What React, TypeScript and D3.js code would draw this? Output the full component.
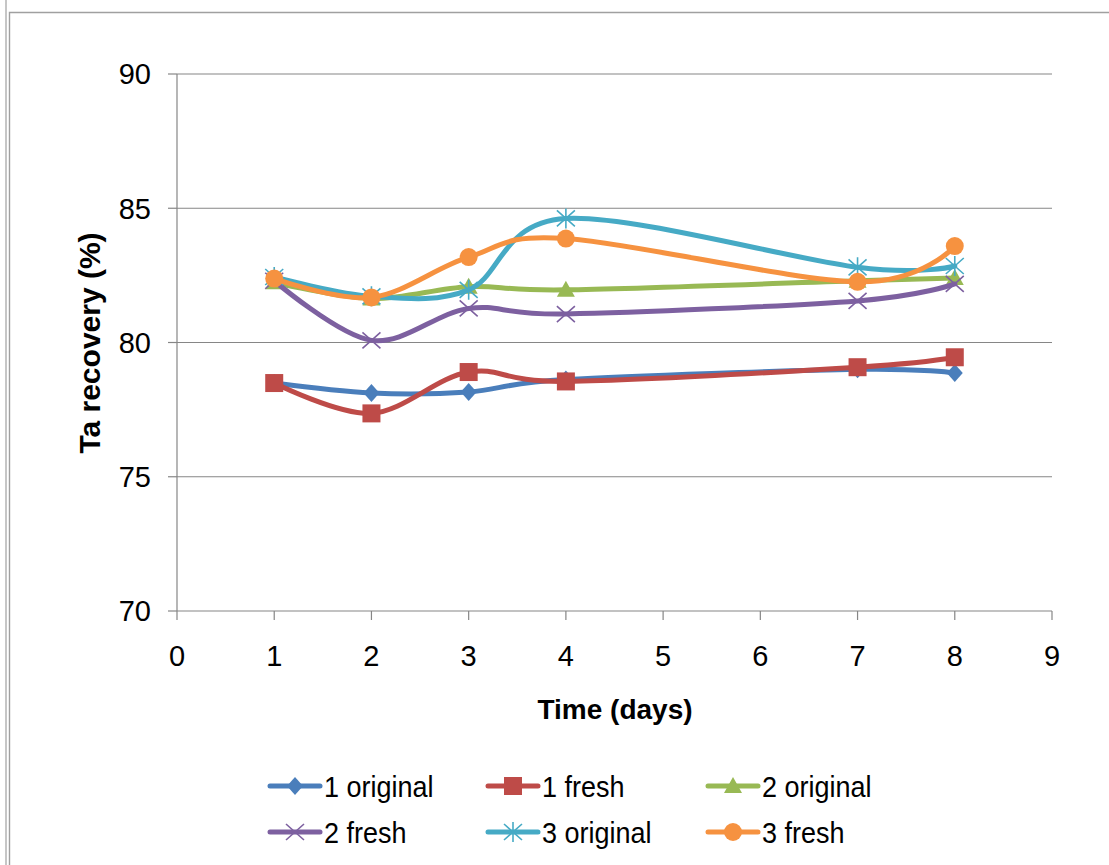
import React from "react";
import * as d3 from "d3";

const days = [1, 2, 3, 4, 7, 8];
const orig1 = [78.49, 78.12, 78.16, 78.62, 79.0, 78.86];
const fresh1 = [78.49, 77.36, 78.9, 78.55, 79.08, 79.45];
const orig2 = [82.24, 81.64, 82.08, 81.96, 82.3, 82.4];
const fresh2 = [82.3, 80.08, 81.27, 81.06, 81.55, 82.18];
const orig3 = [82.44, 81.72, 81.96, 84.62, 82.8, 82.85];
const fresh3 = [82.38, 81.68, 83.18, 83.87, 82.26, 83.59];

const seriesNames = ["1 original", "1 fresh", "2 original", "2 fresh", "3 original", "3 fresh"];
const seriesValues = [orig1, fresh1, orig2, fresh2, orig3, fresh3];
const seriesColors = ["#4A7EBB", "#BE4B48", "#98B954", "#7D60A0", "#46AAC5", "#F69240"];
const seriesMarkers = ["diamond", "square", "triangle", "x", "star", "circle"];

const xTicks = [0, 1, 2, 3, 4, 5, 6, 7, 8, 9];
const yTicks = [70, 75, 80, 85, 90];

const FONT = "'Liberation Sans', Arial, sans-serif";

function Marker({ type, x, y, color }: { type: string; x: number; y: number; color: string }) {
  switch (type) {
    case "diamond":
      return <path d={`M${x},${y - 9}L${x + 8},${y}L${x},${y + 9}L${x - 8},${y}Z`} fill={color} />;
    case "square":
      return <rect x={x - 9} y={y - 9} width={18} height={18} fill={color} />;
    case "triangle":
      return <path d={`M${x},${y - 9}L${x + 9},${y + 7}L${x - 9},${y + 7}Z`} fill={color} />;
    case "x":
      return (
        <path
          d={`M${x - 9},${y - 8}L${x + 9},${y + 8}M${x - 9},${y + 8}L${x + 9},${y - 8}`}
          stroke={color}
          strokeWidth={1.6}
          fill="none"
        />
      );
    case "star":
      return (
        <path
          d={`M${x - 9},${y - 8}L${x + 9},${y + 8}M${x - 9},${y + 8}L${x + 9},${y - 8}M${x},${y - 10}L${x},${y + 10}`}
          stroke={color}
          strokeWidth={1.6}
          fill="none"
        />
      );
    case "circle":
      return <circle cx={x} cy={y} r={9} fill={color} />;
    default:
      return null;
  }
}

export default function App() {
  const W = 1109;
  const H = 865;
  const x = d3.scaleLinear().domain([0, 9]).range([177, 1052]);
  const y = d3.scaleLinear().domain([70, 90]).range([611, 74]);
  const line = d3
    .line<[number, number]>()
    .x((d) => x(d[0]))
    .y((d) => y(d[1]))
    .curve(d3.curveCardinal.tension(0));

  const legendCols = [270, 488, 708];
  const legendRows = [786, 832];

  return (
    <svg
      width={W}
      height={H}
      style={{ position: "absolute", left: 0, top: 0, background: "#fff" }}
      fontFamily={FONT}
    >
      <rect x={0} y={0} width={W} height={H} fill="#fff" />
      {/* frame */}
      <line x1={6} y1={0} x2={6} y2={H} stroke="#A0A0A0" strokeWidth={1.2} />
      <path d={`M9.5,${H}L9.5,12.5L${W},12.5`} stroke="#A0A0A0" strokeWidth={1.4} fill="none" />

      {/* gridlines */}
      {yTicks.slice(1).map((t) => (
        <line key={t} x1={177} x2={1052} y1={y(t)} y2={y(t)} stroke="#868686" strokeWidth={1.2} />
      ))}
      {/* axes */}
      <line x1={177} x2={177} y1={74} y2={611} stroke="#868686" strokeWidth={1.2} />
      <line x1={177} x2={1052} y1={611} y2={611} stroke="#868686" strokeWidth={1.2} />
      {yTicks.map((t) => (
        <g key={t}>
          <line x1={168} x2={177} y1={y(t)} y2={y(t)} stroke="#868686" strokeWidth={1.2} />
          <text x={151} y={y(t)} dy="0.36em" textAnchor="end" fontSize={29} fill="#000">
            {t}
          </text>
        </g>
      ))}
      {xTicks.map((t) => (
        <g key={t}>
          <line x1={x(t)} x2={x(t)} y1={611} y2={620} stroke="#868686" strokeWidth={1.2} />
          <text x={x(t)} y={666} textAnchor="middle" fontSize={29} fill="#000">
            {t}
          </text>
        </g>
      ))}

      {/* axis titles */}
      <text x={615} y={719} textAnchor="middle" fontSize={28} fontWeight="bold" fill="#000">
        Time (days)
      </text>
      <text
        transform={`translate(100,343) rotate(-90)`}
        textAnchor="middle"
        fontSize={30}
        fontWeight="bold"
        fill="#000"
      >
        Ta recovery (%)
      </text>

      {/* series */}
      {seriesValues.map((vals, i) => {
        const pts: [number, number][] = days.map((d, j) => [d, vals[j]]);
        return (
          <g key={seriesNames[i]}>
            <path d={line(pts) || ""} fill="none" stroke={seriesColors[i]} strokeWidth={5} strokeLinejoin="round" strokeLinecap="round" />
            {pts.map((p, j) => (
              <Marker key={j} type={seriesMarkers[i]} x={x(p[0])} y={y(p[1])} color={seriesColors[i]} />
            ))}
          </g>
        );
      })}

      {/* legend */}
      {seriesNames.map((name, i) => {
        const cx = legendCols[i % 3];
        const cy = legendRows[Math.floor(i / 3)];
        return (
          <g key={name}>
            <line x1={cx} x2={cx + 50} y1={cy} y2={cy} stroke={seriesColors[i]} strokeWidth={5} strokeLinecap="round" />
            <Marker type={seriesMarkers[i]} x={cx + 25} y={cy} color={seriesColors[i]} />
            <text
              transform={`translate(${cx + 54},${cy}) scale(0.9,1)`}
              dy="0.36em"
              fontSize={30}
              fill="#000"
            >
              {name}
            </text>
          </g>
        );
      })}
    </svg>
  );
}
